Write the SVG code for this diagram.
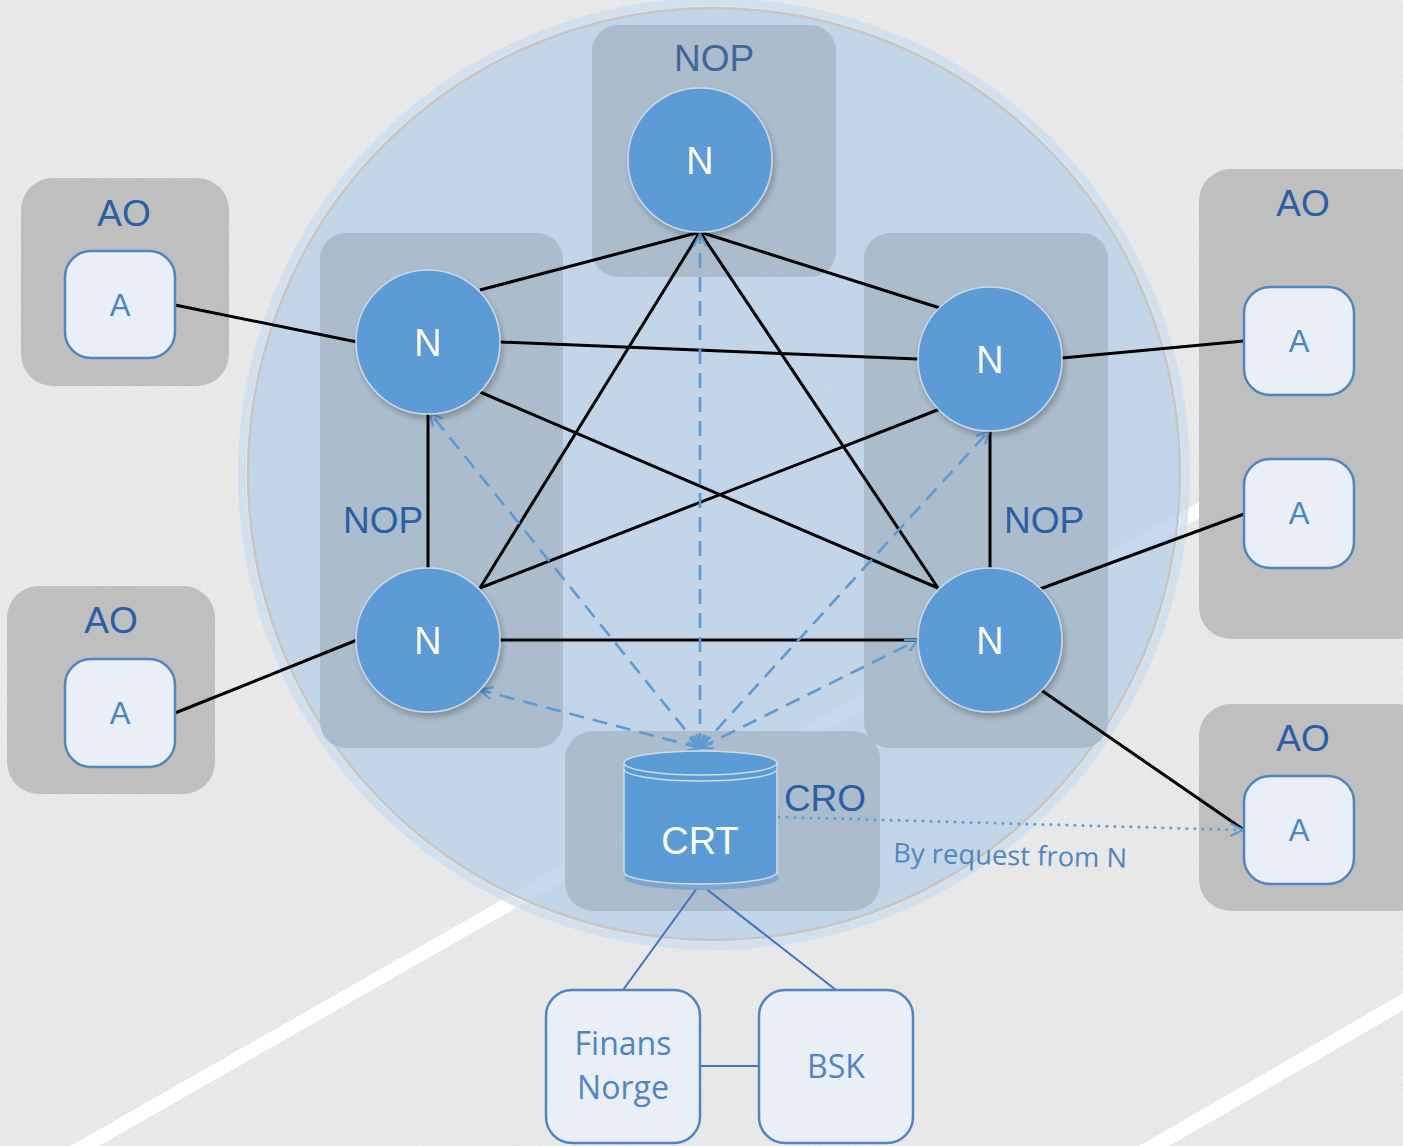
<svg xmlns="http://www.w3.org/2000/svg" width="1403" height="1146" viewBox="0 0 1403 1146">
<defs>
<style>
.ao{fill:#bfbfbf}
.nop{fill:#a9b9ca;fill-opacity:0.9}
.abox{fill:#e9eef7;stroke:#4f86c0;stroke-width:2.5}
.ncirc{fill:#5b9bd5;stroke:#cad9e9;stroke-width:1.5}
.lbl{font-family:"Liberation Sans",Arial,sans-serif;font-size:37px;fill:#2b5fa5;text-anchor:middle}
.ntxt{font-family:"Liberation Sans",Arial,sans-serif;font-size:38px;fill:#ffffff;text-anchor:middle}
.atxt{font-family:"Liberation Sans",Arial,sans-serif;font-size:31px;fill:#4a86c0;text-anchor:middle}
.ctxt{font-family:"Open Sans","Noto Sans",sans-serif;font-size:32px;fill:#4f86c0;text-anchor:middle}
.blk{stroke:#000;stroke-width:3;fill:none}
.dash{stroke:#5b9bd5;stroke-width:2.6;fill:none;stroke-dasharray:15 9}
.thin{stroke:#3f73c4;stroke-width:2;fill:none}
</style>
<marker id="chev" viewBox="0 0 12 12" refX="11" refY="6" markerWidth="15" markerHeight="15" markerUnits="userSpaceOnUse" orient="auto-start-reverse">
<path d="M1,1 L11,6 L1,11" fill="none" stroke="#5b9bd5" stroke-width="1.8"/>
</marker>
<filter id="noise" x="0" y="0" width="100%" height="100%">
<feTurbulence type="fractalNoise" baseFrequency="0.85" numOctaves="2" seed="7"/>
<feColorMatrix type="matrix" values="0 0 0 0 0.55  0 0 0 0 0.55  0 0 0 0 0.55  0.5 0 0 0 -0.18"/>
</filter>
<filter id="shadow" x="-20%" y="-20%" width="140%" height="140%">
<feGaussianBlur in="SourceAlpha" stdDeviation="3"/>
<feOffset dx="2" dy="4" result="b"/>
<feComponentTransfer><feFuncA type="linear" slope="0.25"/></feComponentTransfer>
<feMerge><feMergeNode/><feMergeNode in="SourceGraphic"/></feMerge>
</filter>
</defs>

<g id="background">
<rect width="1403" height="1146" fill="#ebebeb"/>
<rect width="1403" height="1146" filter="url(#noise)"/>
<line x1="60" y1="1160" x2="1420" y2="384" stroke="#ffffff" stroke-width="14"/>
<line x1="1130" y1="1160" x2="1420" y2="992" stroke="#ffffff" stroke-width="15"/>
</g>

<g id="network-circle">
<circle cx="714" cy="474" r="472" fill="none" stroke="#c9dbef" stroke-width="8" stroke-opacity="0.7"/>
<circle cx="714" cy="474" r="466" fill="#b9cfe7" fill-opacity="0.8" stroke="#c6c6c6" stroke-width="2.5"/>
</g>

<g id="nop-top"><rect class="nop" x="592" y="25" width="244" height="252" rx="26"/><text class="lbl" x="714" y="71" style="fill:#3f6797">NOP</text></g>
<g id="nop-left"><rect class="nop" x="320" y="233" width="243" height="515" rx="26"/><text class="lbl" x="383" y="533">NOP</text></g>
<g id="nop-right"><rect class="nop" x="864" y="233" width="244" height="515" rx="26"/><text class="lbl" x="1044" y="533">NOP</text></g>
<g id="cro"><rect class="nop" x="565" y="731" width="315" height="180" rx="28"/><text class="lbl" x="825" y="811">CRO</text></g>

<g id="ao-left-top"><rect class="ao" x="21" y="178" width="208" height="208" rx="32"/><text class="lbl" x="124" y="226">AO</text></g>
<g id="ao-left-bottom"><rect class="ao" x="7" y="586" width="208" height="208" rx="32"/><text class="lbl" x="111" y="633">AO</text></g>
<g id="ao-right-top"><rect class="ao" x="1199" y="169" width="230" height="470" rx="32"/><text class="lbl" x="1303" y="216">AO</text></g>
<g id="ao-right-bottom"><rect class="ao" x="1199" y="704" width="230" height="207" rx="32"/><text class="lbl" x="1303" y="751">AO</text></g>

<g id="connectors">
<line class="blk" x1="700" y1="232" x2="480" y2="290"/>
<line class="blk" x1="700" y1="232" x2="940" y2="308"/>
<line class="blk" x1="700" y1="232" x2="480" y2="588"/>
<line class="blk" x1="700" y1="232" x2="938" y2="588"/>
<line class="blk" x1="500" y1="342" x2="918" y2="359"/>
<line class="blk" x1="480" y1="392" x2="938" y2="588"/>
<line class="blk" x1="428" y1="413" x2="428" y2="569"/>
<line class="blk" x1="990" y1="430" x2="990" y2="569"/>
<line class="blk" x1="940" y1="409" x2="480" y2="588"/>
<line class="blk" x1="500" y1="640" x2="918" y2="640"/>
<line class="blk" x1="175" y1="305" x2="357" y2="342"/>
<line class="blk" x1="175" y1="713" x2="357" y2="640"/>
<line class="blk" x1="1244" y1="341" x2="1062" y2="358"/>
<line class="blk" x1="1244" y1="514" x2="1040" y2="589"/>
<line class="blk" x1="1244" y1="830" x2="1041" y2="690"/>
<line class="dash" x1="700" y1="748" x2="700" y2="234" marker-start="url(#chev)" marker-end="url(#chev)"/>
<line class="dash" x1="700" y1="748" x2="430" y2="413" marker-start="url(#chev)" marker-end="url(#chev)"/>
<line class="dash" x1="700" y1="748" x2="989" y2="431" marker-start="url(#chev)" marker-end="url(#chev)"/>
<line class="dash" x1="700" y1="748" x2="480" y2="690" marker-start="url(#chev)" marker-end="url(#chev)"/>
<line class="dash" x1="700" y1="748" x2="918" y2="640" marker-start="url(#chev)" marker-end="url(#chev)"/>
<line x1="779" y1="817" x2="1243" y2="830" stroke="#5b9bd5" stroke-width="3" stroke-linecap="round" stroke-dasharray="0 8" marker-end="url(#chev)"/>
<line class="thin" x1="700" y1="884" x2="623" y2="990"/>
<line class="thin" x1="700" y1="884" x2="836" y2="990"/>
<line class="thin" x1="700" y1="1066" x2="759" y2="1066"/>
<text x="1010" y="865" transform="rotate(1.3 1010 865)" style="font-family:'Open Sans','Noto Sans',sans-serif;font-size:27px;fill:#4f86c0;text-anchor:middle" textLength="234" lengthAdjust="spacingAndGlyphs">By request from N</text>
</g>

<g id="n-top" filter="url(#shadow)"><circle class="ncirc" cx="700" cy="160" r="72"/><text class="ntxt" x="700" y="174">N</text></g>
<g id="n-left-top" filter="url(#shadow)"><circle class="ncirc" cx="428" cy="342" r="72"/><text class="ntxt" x="428" y="356">N</text></g>
<g id="n-right-top" filter="url(#shadow)"><circle class="ncirc" cx="990" cy="359" r="72"/><text class="ntxt" x="990" y="373">N</text></g>
<g id="n-left-bottom" filter="url(#shadow)"><circle class="ncirc" cx="428" cy="640" r="72"/><text class="ntxt" x="428" y="654">N</text></g>
<g id="n-right-bottom" filter="url(#shadow)"><circle class="ncirc" cx="990" cy="640" r="72"/><text class="ntxt" x="990" y="654">N</text></g>

<g id="crt">
<ellipse cx="702" cy="878" rx="77" ry="12" fill="#7fa5cc"/>
<path d="M624,763 L624,872 A76.5,12 0 0,0 777,872 L777,763 Z" fill="#5b9bd5" stroke="#cfdae6" stroke-width="1.5"/>
<ellipse cx="700.5" cy="763" rx="76.5" ry="12" fill="#5b9bd5" stroke="#cfdae6" stroke-width="1.5"/>
<path d="M624,769 A76.5,12 0 0,0 777,769" fill="none" stroke="#cfdae6" stroke-width="1.5"/>
<text class="ntxt" x="700" y="854">CRT</text>
</g>

<g id="a-left-top"><rect class="abox" x="65" y="251" width="110" height="107" rx="26"/><text class="atxt" x="120" y="316">A</text></g>
<g id="a-left-bottom"><rect class="abox" x="65" y="659" width="110" height="108" rx="26"/><text class="atxt" x="120" y="724">A</text></g>
<g id="a-right-1"><rect class="abox" x="1244" y="287" width="110" height="108" rx="26"/><text class="atxt" x="1299" y="352">A</text></g>
<g id="a-right-2"><rect class="abox" x="1244" y="459" width="110" height="109" rx="26"/><text class="atxt" x="1299" y="524">A</text></g>
<g id="a-right-3"><rect class="abox" x="1244" y="776" width="110" height="108" rx="26"/><text class="atxt" x="1299" y="841">A</text></g>

<g id="finans-norge"><rect class="abox" x="546" y="990" width="154" height="153" rx="26"/><text class="ctxt" x="623" y="1055">Finans</text><text class="ctxt" x="623" y="1099">Norge</text></g>
<g id="bsk"><rect class="abox" x="759" y="990" width="154" height="153" rx="26"/><text class="ctxt" x="836" y="1078">BSK</text></g>
</svg>
